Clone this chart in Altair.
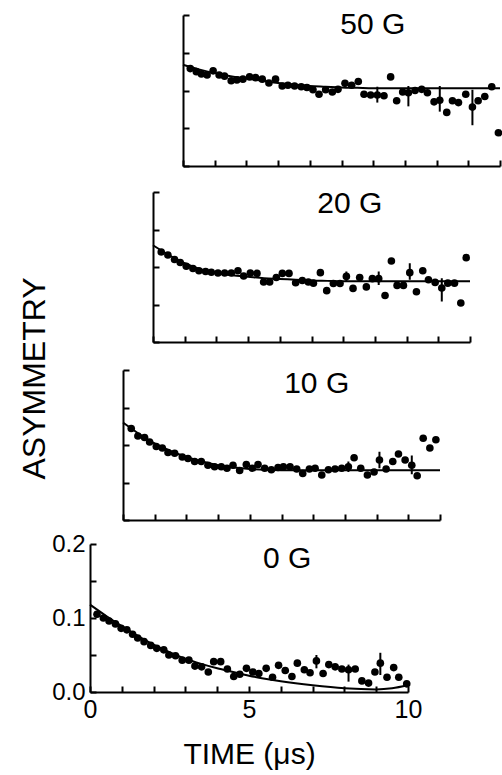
import altair as alt
import pandas as pd

FONT = "Liberation Sans"
W, H = 502, 775

# ---------------- data ----------------
# common time grid of the fitted curves (µs)
CURVE_T = [0, 0.5, 1, 1.5, 2, 2.5, 3, 3.5, 4, 4.5, 5, 5.5, 6, 7, 8, 9, 9.5, 10]

# 50 G
T50 = [0.23, 0.42, 0.58, 0.76, 0.95, 1.14, 1.31, 1.52, 1.70, 1.89, 2.10, 2.29, 2.50, 2.71, 2.92,
       3.13, 3.31, 3.52, 3.73, 3.91, 4.10, 4.29, 4.50, 4.71, 4.89, 5.11, 5.32, 5.53, 5.71, 5.92,
       6.13, 6.34, 6.55, 6.74, 6.93, 7.11, 7.32, 7.53, 7.71, 7.92, 8.10, 8.32, 8.50, 8.69, 8.92,
       9.13, 9.31, 9.52, 9.74, 9.95]
V50 = [0.129, 0.125, 0.122, 0.1205, 0.126, 0.1205, 0.119, 0.113, 0.114, 0.115, 0.118, 0.117, 0.115, 0.110, 0.115,
       0.106, 0.107, 0.106, 0.105, 0.104, 0.101, 0.095, 0.101, 0.098, 0.1015, 0.1095, 0.107, 0.112, 0.095, 0.094,
       0.094, 0.093, 0.118, 0.0865, 0.098, 0.097, 0.100, 0.1015, 0.097, 0.085, 0.087, 0.071, 0.0865, 0.084, 0.095,
       0.078, 0.0865, 0.092, 0.105, 0.044]
ET50 = [6.13, 7.11, 8.10, 9.13]
ELO50 = [0.084, 0.079, 0.072, 0.054]
EHI50 = [0.105, 0.106, 0.106, 0.101]
C50 = [0.134, 0.128, 0.123, 0.119, 0.116, 0.113, 0.110, 0.108, 0.106, 0.105, 0.104, 0.1035,
       0.103, 0.103, 0.103, 0.103, 0.103, 0.103]

# 20 G
T20 = [0.26, 0.47, 0.68, 0.86, 1.05, 1.26, 1.45, 1.66, 1.84, 2.05, 2.26, 2.47, 2.68, 2.86, 3.07,
       3.28, 3.49, 3.68, 3.89, 4.08, 4.29, 4.50, 4.71, 4.90, 5.06, 5.28, 5.48, 5.69, 5.90, 6.10,
       6.31, 6.52, 6.73, 6.92, 7.12, 7.32, 7.52, 7.70, 7.90, 8.10, 8.31, 8.51, 8.69, 8.90, 9.11,
       9.30, 9.51, 9.71, 9.88]
V20 = [0.120, 0.116, 0.110, 0.106, 0.101, 0.098, 0.095, 0.094, 0.093, 0.092, 0.092, 0.092, 0.095, 0.088, 0.092,
       0.0915, 0.080, 0.080, 0.086, 0.0915, 0.0915, 0.079, 0.082, 0.080, 0.0785, 0.0925, 0.0685, 0.078, 0.078, 0.0875,
       0.0715, 0.086, 0.0735, 0.0845, 0.0845, 0.062, 0.108, 0.0755, 0.0755, 0.0925, 0.067, 0.095, 0.083, 0.0795, 0.072,
       0.0785, 0.0785, 0.052, 0.1125]
ET20 = [6.10, 7.12, 8.10, 9.11]
ELO20 = [0.080, 0.076, 0.083, 0.054]
EHI20 = [0.094, 0.094, 0.105, 0.085]
C20 = [0.129, 0.116, 0.105, 0.097, 0.092, 0.089, 0.087, 0.085, 0.084, 0.083, 0.082, 0.0815,
       0.081, 0.081, 0.081, 0.081, 0.081, 0.081]

# 10 G
T10 = [0.26, 0.47, 0.68, 0.84, 1.05, 1.24, 1.42, 1.63, 1.87, 2.05, 2.26, 2.47, 2.68, 2.89, 3.10,
       3.28, 3.47, 3.68, 3.89, 4.08, 4.26, 4.47, 4.68, 4.89, 5.06, 5.27, 5.48, 5.67, 5.88, 6.06,
       6.27, 6.48, 6.69, 6.90, 7.11, 7.29, 7.50, 7.71, 7.92, 8.09, 8.30, 8.51, 8.69, 8.90, 9.11,
       9.28, 9.47, 9.68, 9.87]
V10 = [0.122, 0.112, 0.110, 0.104, 0.098, 0.096, 0.090, 0.089, 0.084, 0.082, 0.078, 0.078, 0.073, 0.071, 0.071,
       0.069, 0.073, 0.066, 0.074, 0.069, 0.074, 0.069, 0.067, 0.070, 0.071, 0.071, 0.068, 0.062, 0.068, 0.069,
       0.060, 0.067, 0.068, 0.069, 0.071, 0.083, 0.069, 0.060, 0.064, 0.080, 0.068, 0.078, 0.088, 0.080, 0.073,
       0.059, 0.109, 0.096, 0.107]
ET10 = [7.11, 8.09, 9.11]
ELO10 = [0.064, 0.069, 0.061]
EHI10 = [0.078, 0.091, 0.086]
C10 = [0.130, 0.115, 0.102, 0.092, 0.084, 0.078, 0.073, 0.070, 0.068, 0.067, 0.0665, 0.0665,
       0.0665, 0.0665, 0.0665, 0.0665, 0.0665, 0.0665]

# 0 G
T0 = [0.22, 0.42, 0.60, 0.80, 0.98, 1.16, 1.34, 1.50, 1.70, 1.91, 2.10, 2.32, 2.48, 2.69, 2.90,
      3.11, 3.30, 3.51, 3.72, 3.89, 4.11, 4.32, 4.52, 4.71, 4.92, 5.12, 5.31, 5.54, 5.74, 5.93,
      6.14, 6.35, 6.52, 6.74, 6.92, 7.12, 7.33, 7.51, 7.71, 7.92, 8.13, 8.34, 8.55, 8.76, 8.96,
      9.13, 9.34, 9.55, 9.71, 9.96]
V0 = [0.105, 0.100, 0.096, 0.092, 0.086, 0.084, 0.078, 0.073, 0.068, 0.063, 0.059, 0.057, 0.050, 0.049, 0.043,
      0.043, 0.035, 0.034, 0.027, 0.041, 0.041, 0.031, 0.021, 0.024, 0.032, 0.027, 0.025, 0.032, 0.020, 0.036,
      0.029, 0.021, 0.039, 0.030, 0.026, 0.042, 0.025, 0.037, 0.034, 0.031, 0.030, 0.031, 0.015, 0.012, 0.027,
      0.039, 0.020, 0.033, 0.020, 0.011]
ET0 = [7.12, 8.13, 9.13]
ELO0 = [0.032, 0.014, 0.023]
EHI0 = [0.050, 0.037, 0.053]
C0 = [0.118, 0.103, 0.089, 0.076, 0.064, 0.054, 0.045, 0.038, 0.032, 0.027, 0.022, 0.018,
      0.0145, 0.009, 0.005, 0.0035, 0.005, 0.009]

LABELS = ["50 G", "20 G", "10 G", "0 G"]
LABEL_T = [5.99, 6.21, 6.11, 6.20]
LABEL_V = [0.187, 0.184, 0.181, 0.180]

X_TICKS = [0, 1, 2, 3, 4, 5, 6, 7, 8, 9, 10]
Y_TICKS = [0, 0.05, 0.1, 0.15, 0.2]
X_LABELS = [0, 5, 10]
Y_LABELS = [0, 0.1, 0.2]

# ---------------- layout (pixel ranges of each panel) ----------------
GEOM = [
    dict(x0=183, x1=500, yb=166, yt=15),
    dict(x0=153, x1=470, yb=342, yt=192),
    dict(x0=123, x1=440, yb=520, yt=370),
    dict(x0=90, x1=408, yb=692, yt=544),
]


def panel(i, T, V, ET, ELO, EHI, CV, bottom=False):
    g = GEOM[i]
    pts = pd.DataFrame({"t": T, "v": V})
    crv = pd.DataFrame({"t": CURVE_T, "v": CV})
    err = pd.DataFrame({"t": ET, "v": ELO, "v2": EHI})
    lab = pd.DataFrame({"t": [LABEL_T[i]], "v": [LABEL_V[i]], "label": [LABELS[i]]})

    xs = alt.Scale(domain=[0, 10], range=[g["x0"], g["x1"]], nice=False, zero=False)
    ys = alt.Scale(domain=[0, 0.2], range=[g["yb"], g["yt"]], nice=False, zero=False)
    common = dict(domainColor="black", domainWidth=2, tickColor="black", tickWidth=2,
                  tickSize=6, grid=False, labels=False, title=None)
    xax = alt.Axis(orient="top", offset=-g["yb"], values=X_TICKS, **common)
    yax = alt.Axis(orient="right", offset=g["x0"] - W, values=Y_TICKS, **common)
    X = alt.X("t:Q", scale=xs, axis=xax)
    Y = alt.Y("v:Q", scale=ys, axis=yax)

    line = alt.Chart(crv).mark_line(color="black", strokeWidth=2,
                                    interpolate="monotone").encode(x=X, y=Y)
    rules = alt.Chart(err).mark_rule(color="black", strokeWidth=2).encode(
        x=X, y=Y, y2="v2:Q")
    dots = alt.Chart(pts).mark_circle(color="black", opacity=1, size=58).encode(x=X, y=Y)
    text = alt.Chart(lab).mark_text(fontSize=30, font=FONT, align="center",
                                    baseline="middle", color="black").encode(
        x=X, y=Y, text="label:N")
    layer = alt.layer(line, rules, dots, text)

    if bottom:
        lab_common = dict(ticks=False, tickSize=0, domain=False, grid=False,
                          labelFont=FONT, labelColor="black",
                          labelPadding=5, labelFlush=False,
                          titleFont=FONT, titleFontWeight="normal",
                          titleColor="black")
        xlab = alt.Axis(orient="bottom", offset=g["yb"] - H, values=X_LABELS, format="d",
                        labelFontSize=25,
                        title="TIME (μs)", titleFontSize=30, titleY=71,
                        titleBaseline="alphabetic", **lab_common)
        ylab = alt.Axis(orient="left", offset=-g["x0"], values=Y_LABELS, format=".1f",
                        labelFontSize=24,
                        title="ASYMMETRY", titleFontSize=32, titleX=-46, titleY=378,
                        titleAngle=270, titleAlign="center", titleBaseline="alphabetic",
                        **lab_common)
        ghost = alt.Chart(pts).mark_circle(opacity=0).encode(
            x=alt.X("t:Q", scale=xs, axis=xlab),
            y=alt.Y("v:Q", scale=ys, axis=ylab))
        layer = alt.layer(layer, ghost).resolve_scale(x="independent", y="independent")
    return layer


p50 = panel(0, T50, V50, ET50, ELO50, EHI50, C50)
p20 = panel(1, T20, V20, ET20, ELO20, EHI20, C20)
p10 = panel(2, T10, V10, ET10, ELO10, EHI10, C10)
p0 = panel(3, T0, V0, ET0, ELO0, EHI0, C0, bottom=True)

chart = (
    alt.layer(p50, p20, p10, p0)
    .resolve_scale(x="independent", y="independent")
    .properties(width=W, height=H, autosize=alt.AutoSizeParams(type="none"),
                padding=0, background="white")
    .configure_view(stroke="transparent")
)

chart.save("out.html", embed_options={"renderer": "svg", "actions": False})
